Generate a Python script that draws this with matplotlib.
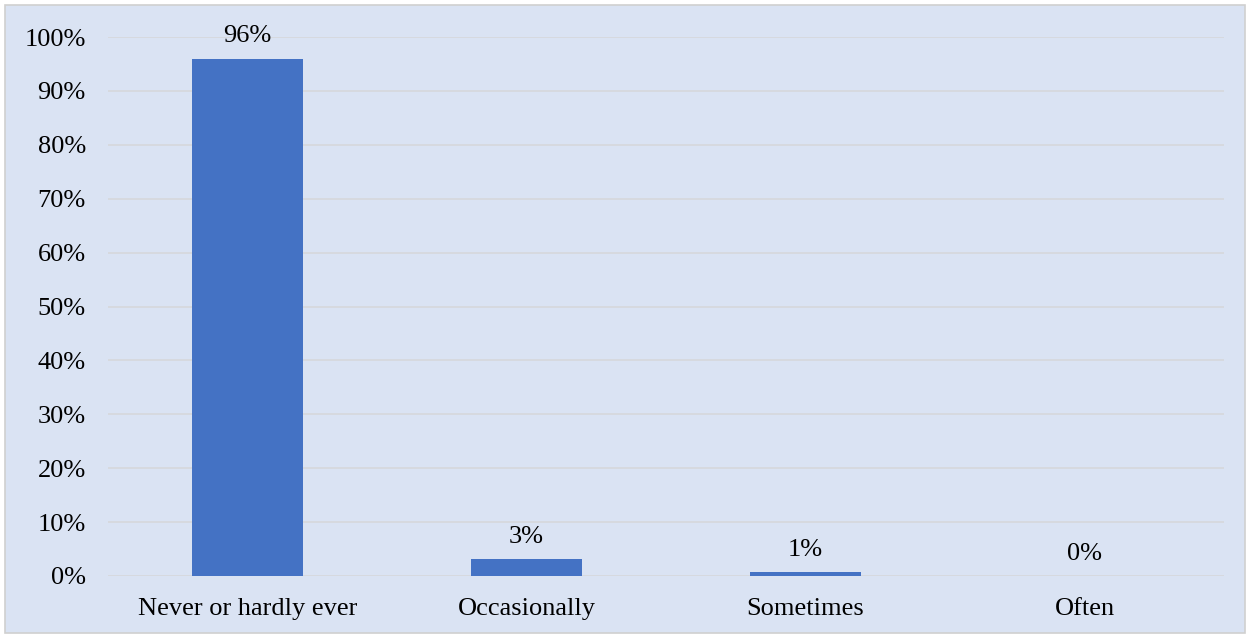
import matplotlib
matplotlib.use('Agg')
import matplotlib.pyplot as plt
from matplotlib.patches import Rectangle

# Frequency responses (percent of respondents)
categories = ['Never or hardly ever', 'Occasionally', 'Sometimes', 'Often']
shares = [96.0, 3.1, 0.8, 0.0]
yticks = [0, 10, 20, 30, 40, 50, 60, 70, 80, 90, 100]

bg = '#DAE3F3'
bar_color = '#4472C4'
grid_color = '#D6D8DC'

plt.rcParams['font.family'] = ['Liberation Serif', 'DejaVu Serif']
FS = 19

fig = plt.figure(figsize=(12.5, 6.36), dpi=100)
fig.patch.set_facecolor('white')
# panel background with a thin grey frame
fig.patches.append(Rectangle((5 / 1250, 3 / 636), 1240 / 1250, 628 / 636,
                             transform=fig.transFigure, facecolor=bg,
                             edgecolor='#D0D0D0', linewidth=1.2, zorder=-10))

ax = fig.add_axes([108 / 1250, 1 - 576 / 636, 1116 / 1250, 539 / 636])
ax.set_zorder(5)
ax.patch.set_alpha(0)

x = range(len(categories))
ax.bar(x, shares, width=0.395, color=bar_color, zorder=3)

for xi, v in zip(x, shares):
    ax.annotate(f'{v:.0f}%', (xi, v), textcoords='offset points', xytext=(0, 8),
                ha='center', va='bottom', fontsize=FS)

ax.set_xlim(-0.5, len(categories) - 0.5)
ax.set_ylim(0, 100)
ax.set_yticks(yticks)
ax.set_yticklabels([f'{t}%' for t in yticks], fontsize=FS)
ax.set_xticks(list(x))
ax.set_xticklabels(categories, fontsize=FS)
ax.tick_params(axis='both', length=0)
ax.tick_params(axis='y', pad=16)
ax.tick_params(axis='x', pad=16)
ax.yaxis.grid(True, color=grid_color, linewidth=1.2, zorder=0)
ax.set_axisbelow(True)
for s in ax.spines.values():
    s.set_visible(False)

fig.savefig('out.png', dpi=100, facecolor=fig.get_facecolor())
